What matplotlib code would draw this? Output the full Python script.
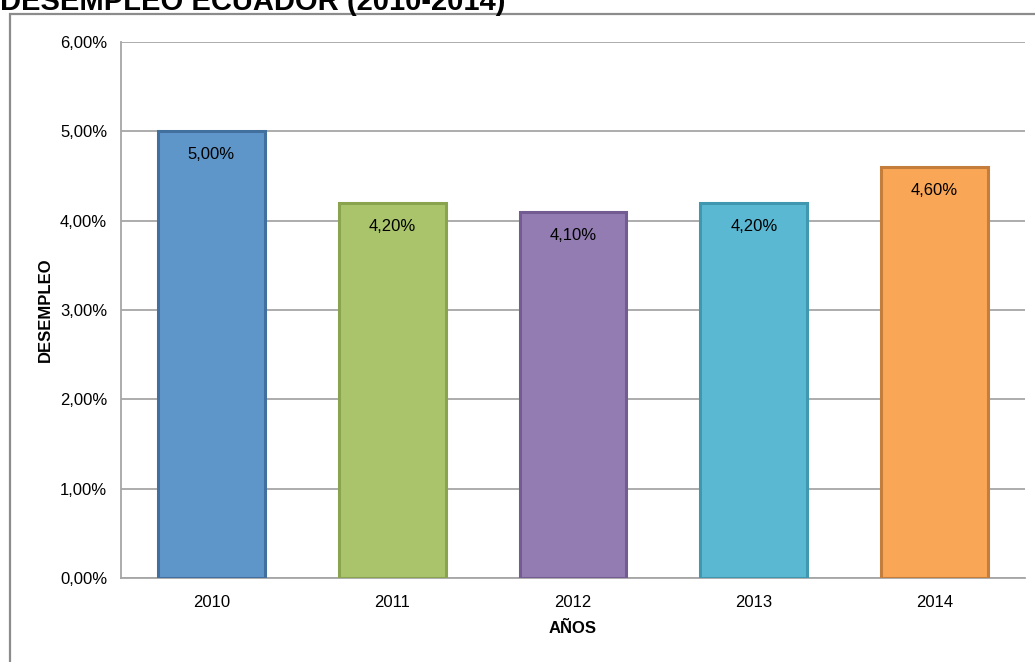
import matplotlib
matplotlib.use("Agg")
import matplotlib.pyplot as plt
from matplotlib.patches import Rectangle
from matplotlib.ticker import FuncFormatter

years = ["2010", "2011", "2012", "2013", "2014"]
desempleo = [5.00, 4.20, 4.10, 4.20, 4.60]
face_colors = ["#5F96C9", "#A9C46B", "#927CB1", "#5BB8D2", "#F9A656"]
edge_colors = ["#41709F", "#8AA34F", "#735C91", "#3F98B0", "#C47D3A"]
y_ticks = [0, 1, 2, 3, 4, 5, 6]

plt.rcParams["font.family"] = ["Liberation Sans", "DejaVu Sans"]

W, H = 1035, 662
fig = plt.figure(figsize=(W / 100, H / 100), dpi=100)
ax = fig.add_axes([121 / W, 1 - 578 / H, (1025 - 121) / W, (578 - 42) / H])

# outer chart frame (only left and top visible)
fig.patches.append(Rectangle((10 / W, -0.2), 1.2, 1.2 - 14 / H, transform=fig.transFigure,
                             fill=False, edgecolor="#8C8C8C", linewidth=1.6, clip_on=False))

x = list(range(len(years)))
ax.bar(x, desempleo, width=0.59, color=face_colors, edgecolor=edge_colors,
       linewidth=2.2, zorder=3)

for xi, v in zip(x, desempleo):
    ax.annotate(f"{v:.2f}%".replace(".", ","), (xi, v), xytext=(0, -17),
                textcoords="offset points", ha="center", va="center",
                fontsize=12, zorder=4)

ax.set_xlim(-0.5, len(years) - 0.5)
ax.set_ylim(0, 6)
ax.set_yticks(y_ticks)
ax.yaxis.set_major_formatter(FuncFormatter(lambda v, p: f"{v:.2f}%".replace(".", ",")))
ax.set_xticks(x)
ax.set_xticklabels(years)
ax.grid(axis="y", color="#A6A6A6", linewidth=1.3, zorder=0)
ax.tick_params(length=0, labelsize=12)
ax.tick_params(axis="y", pad=10)
ax.tick_params(axis="x", pad=12.5)

for side in ["top", "right"]:
    ax.spines[side].set_visible(False)
for side in ["left", "bottom"]:
    ax.spines[side].set_color("#A6A6A6")
    ax.spines[side].set_linewidth(1.3)

ax.set_xlabel("AÑOS", fontsize=12, fontweight="bold", labelpad=8)
ax.set_ylabel("DESEMPLEO", fontsize=12, fontweight="bold", labelpad=5)

fig.text(0.0, 1 - 10 / H, "DESEMPLEO ECUADOR (2010-2014)", fontsize=21,
         fontweight="bold", ha="left", va="baseline")

fig.savefig("out.png", dpi=100)
